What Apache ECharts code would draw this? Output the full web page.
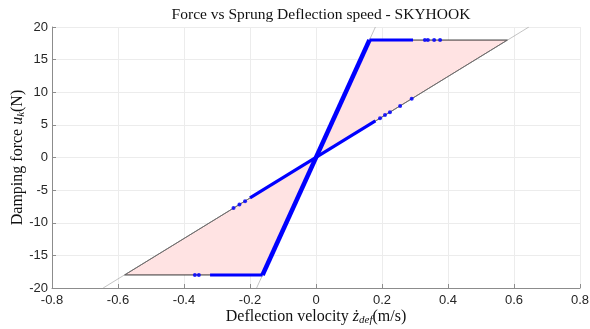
<!DOCTYPE html>
<html>
<head>
<meta charset="utf-8">
<script src="https://cdn.jsdelivr.net/npm/echarts@6/dist/echarts.min.js"></script>
<style>html,body{margin:0;padding:0;background:#fff}#c{width:590px;height:329px}</style>
</head>
<body>
<div id="c"></div>
<script>
// ---- data ----
const xTicks = [-0.8, -0.6, -0.4, -0.2, 0, 0.2, 0.4, 0.6, 0.8];
const yTicks = [-20, -15, -10, -5, 0, 5, 10, 15, 20];
// shaded admissible region (parallelogram)
const regionPolygon = [[-0.58, -18], [-0.162, -18], [0.162, 18], [0.58, 18]];
// thin reference lines across the whole plot
const shallowRefLine = [[-0.645, -20], [0.645, 20]];
const steepRefLine = [[-0.18, -20], [0.18, 20]];
// dense blue trajectories
const denseSteep = [[-0.162, -18], [0.162, 18]];
const denseShallow = [[-0.2, -6.2], [0.18, 5.6]];
const denseTop = [[0.162, 18], [0.294, 18]];
const denseBottom = [[-0.321, -18], [-0.162, -18]];
// isolated blue samples
const sparsePoints = [
  [0.33, 18], [0.339, 18], [0.358, 18], [0.376, 18],
  [-0.355, -18], [-0.367, -18],
  [0.194, 6.0], [0.209, 6.5], [0.224, 6.95], [0.255, 7.9], [0.29, 9.0],
  [-0.215, -6.7], [-0.232, -7.2], [-0.25, -7.75]
];

const chart = echarts.init(document.getElementById('c'), null, {renderer: 'canvas'});
const axisCol = '#8c8c8c';
const labelCol = '#262626';
const serif = '"Liberation Serif", "DejaVu Serif", serif';
const sans = '"Liberation Sans", Arial, sans-serif';
const blue = '#0000ff';

function lineSeries(data, color, width, z) {
  return {type: 'line', data: data, symbol: 'none', silent: true, z: z,
    lineStyle: {color: color, width: width}, animation: false};
}

chart.setOption({
  animation: false,
  title: {
    text: 'Force vs Sprung Deflection speed - SKYHOOK',
    left: 316, top: 2, textAlign: 'center',
    textStyle: {fontFamily: serif, fontSize: 15.5, fontWeight: 'normal', color: '#111'}
  },
  grid: {left: 52, right: 10, top: 27, bottom: 41, outerBoundsMode: 'none', containLabel: false},
  xAxis: {
    type: 'value', min: xTicks[0], max: xTicks[xTicks.length - 1], interval: 0.2,
    axisLine: {show: true, onZero: false, lineStyle: {color: axisCol, width: 1}},
    axisTick: {show: true, inside: true, length: 4, lineStyle: {color: axisCol}},
    axisLabel: {color: labelCol, fontSize: 13, fontFamily: sans, margin: 6,
      formatter: v => String(Math.round(v * 10) / 10)},
    splitLine: {show: true, lineStyle: {color: '#ececec', width: 1}},
    name: '{t|Deflection velocity }{i|ż}{s|def}{t|(m/s)}',
    nameLocation: 'middle', nameGap: 20, nameMoveOverlap: false,
    nameTextStyle: {rich: {
      t: {fontFamily: serif, fontSize: 16, color: '#111'},
      i: {fontFamily: serif, fontSize: 16, fontStyle: 'italic', color: '#111'},
      s: {fontFamily: serif, fontSize: 11, fontStyle: 'italic', color: '#111', padding: [7, 0, 0, 0]}
    }}
  },
  yAxis: {
    type: 'value', min: yTicks[0], max: yTicks[yTicks.length - 1], interval: 5,
    axisLine: {show: true, onZero: false, lineStyle: {color: axisCol, width: 1}},
    axisTick: {show: true, inside: true, length: 4, lineStyle: {color: axisCol}},
    axisLabel: {color: labelCol, fontSize: 13, fontFamily: sans, margin: 4},
    splitLine: {show: true, lineStyle: {color: '#ececec', width: 1}},
    name: '{t|Damping force }{i|u}{s|k}{t|(N)}',
    nameLocation: 'middle', nameGap: 25, nameRotate: 90, nameMoveOverlap: false,
    nameTextStyle: {rich: {
      t: {fontFamily: serif, fontSize: 16, color: '#111'},
      i: {fontFamily: serif, fontSize: 16, fontStyle: 'italic', color: '#111'},
      s: {fontFamily: serif, fontSize: 11, fontStyle: 'italic', color: '#111', padding: [7, 0, 0, 0]}
    }}
  },
  series: [
    {
      type: 'custom', silent: true, z: 1, animation: false,
      data: regionPolygon,
      renderItem: function (params, api) {
        if (params.dataIndex !== 0) return null;
        const pts = regionPolygon.map(p => api.coord(p));
        return {type: 'polygon', shape: {points: pts},
          style: {fill: '#ffe3e3', stroke: '#1e1e1e', lineWidth: 0.9}};
      }
    },
    lineSeries(shallowRefLine, '#9a9a9a', 0.6, 2),
    lineSeries(steepRefLine, '#9a9a9a', 0.6, 2),
    lineSeries(denseShallow, blue, 3.2, 3),
    lineSeries(denseTop, blue, 3, 3),
    lineSeries(denseBottom, blue, 3, 3),
    lineSeries(denseSteep, blue, 4.5, 4),
    {type: 'scatter', data: sparsePoints, symbol: 'circle', symbolSize: 4, z: 5, silent: true,
      itemStyle: {color: blue, opacity: 0.85}, animation: false}
  ]
});
</script>
</body>
</html>
